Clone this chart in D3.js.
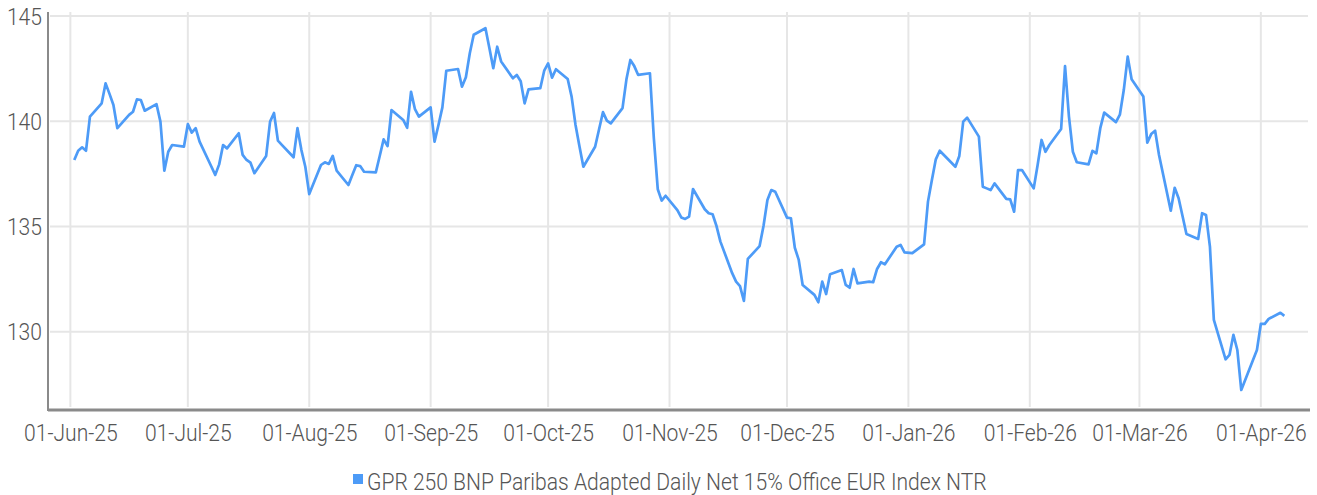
<!DOCTYPE html>
<html>
<head>
<meta charset="utf-8">
<script src="https://cdn.jsdelivr.net/npm/d3@7"></script>
<style>
  body { margin: 0; background: #fff; }
  #chart text { font-family: "Roboto", "Liberation Sans", sans-serif; font-weight: 300; }
</style>
</head>
<body>
<div id="chart"></div>
<script>
// Series name and tick values
const seriesName = "GPR 250 BNP Paribas Adapted Daily Net 15% Office EUR Index NTR";
const yTicks = [130, 135, 140, 145];

// Daily index values
const dates = [
  "2025-06-02","2025-06-03","2025-06-04","2025-06-05","2025-06-06",
  "2025-06-09","2025-06-10","2025-06-11","2025-06-12","2025-06-13",
  "2025-06-16","2025-06-17","2025-06-18","2025-06-19","2025-06-20",
  "2025-06-23","2025-06-24","2025-06-25","2025-06-26","2025-06-27",
  "2025-06-30","2025-07-01","2025-07-02","2025-07-03","2025-07-04",
  "2025-07-07","2025-07-08","2025-07-09","2025-07-10","2025-07-11",
  "2025-07-14","2025-07-15","2025-07-16","2025-07-17","2025-07-18",
  "2025-07-21","2025-07-22","2025-07-23","2025-07-24","2025-07-25",
  "2025-07-28","2025-07-29","2025-07-30","2025-07-31","2025-08-01",
  "2025-08-04","2025-08-05","2025-08-06","2025-08-07","2025-08-08",
  "2025-08-11","2025-08-12","2025-08-13","2025-08-14","2025-08-15",
  "2025-08-18","2025-08-19","2025-08-20","2025-08-21","2025-08-22",
  "2025-08-25","2025-08-26","2025-08-27","2025-08-28","2025-08-29",
  "2025-09-01","2025-09-02","2025-09-03","2025-09-04","2025-09-05",
  "2025-09-08","2025-09-09","2025-09-10","2025-09-11","2025-09-12",
  "2025-09-15","2025-09-16","2025-09-17","2025-09-18","2025-09-19",
  "2025-09-22","2025-09-23","2025-09-24","2025-09-25","2025-09-26",
  "2025-09-29","2025-09-30","2025-10-01","2025-10-02","2025-10-03",
  "2025-10-06","2025-10-07","2025-10-08","2025-10-09","2025-10-10",
  "2025-10-13","2025-10-14","2025-10-15","2025-10-16","2025-10-17",
  "2025-10-20","2025-10-21","2025-10-22","2025-10-23","2025-10-24",
  "2025-10-27","2025-10-28","2025-10-29","2025-10-30","2025-10-31",
  "2025-11-03","2025-11-04","2025-11-05","2025-11-06","2025-11-07",
  "2025-11-10","2025-11-11","2025-11-12","2025-11-13","2025-11-14",
  "2025-11-17","2025-11-18","2025-11-19","2025-11-20","2025-11-21",
  "2025-11-24","2025-11-25","2025-11-26","2025-11-27","2025-11-28",
  "2025-12-01","2025-12-02","2025-12-03","2025-12-04","2025-12-05",
  "2025-12-08","2025-12-09","2025-12-10","2025-12-11","2025-12-12",
  "2025-12-15","2025-12-16","2025-12-17","2025-12-18","2025-12-19",
  "2025-12-22","2025-12-23","2025-12-24","2025-12-25","2025-12-26",
  "2025-12-29","2025-12-30","2025-12-31","2026-01-02",
  "2026-01-05","2026-01-06","2026-01-07","2026-01-08","2026-01-09",
  "2026-01-12","2026-01-13","2026-01-14","2026-01-15","2026-01-16",
  "2026-01-19","2026-01-20","2026-01-21","2026-01-22","2026-01-23",
  "2026-01-26","2026-01-27","2026-01-28","2026-01-29","2026-01-30",
  "2026-02-02","2026-02-03","2026-02-04","2026-02-05","2026-02-06",
  "2026-02-09","2026-02-10","2026-02-11","2026-02-12","2026-02-13",
  "2026-02-16","2026-02-17","2026-02-18","2026-02-19","2026-02-20",
  "2026-02-23","2026-02-24","2026-02-25","2026-02-26","2026-02-27",
  "2026-03-02","2026-03-03","2026-03-04","2026-03-05","2026-03-06",
  "2026-03-09","2026-03-10","2026-03-11","2026-03-12","2026-03-13",
  "2026-03-16","2026-03-17","2026-03-18","2026-03-19","2026-03-20",
  "2026-03-23","2026-03-24","2026-03-25","2026-03-26","2026-03-27",
  "2026-03-30","2026-03-31","2026-04-01","2026-04-02","2026-04-03",
  "2026-04-06","2026-04-07"
];
const values = [
  138.16, 138.60, 138.76, 138.60, 140.22,
  140.85, 141.80, 141.30, 140.77, 139.67,
  140.30, 140.45, 141.04, 141.01, 140.50,
  140.81, 139.98, 137.65, 138.55, 138.87,
  138.79, 139.86, 139.46, 139.67, 139.03,
  137.85, 137.45, 137.95, 138.87, 138.71,
  139.43, 138.40, 138.16, 138.03, 137.53,
  138.35, 139.98, 140.39, 139.08, 138.88,
  138.29, 139.67, 138.63, 137.84, 136.54,
  137.92, 138.05, 137.97, 138.35, 137.65,
  136.97, 137.45, 137.91, 137.87, 137.60,
  137.57, 138.35, 139.14, 138.82, 140.53,
  140.06, 139.69, 141.40, 140.57, 140.22,
  140.66, 139.03, 139.82, 140.66, 142.40,
  142.48, 141.64, 142.09, 143.23, 144.11,
  144.42, 143.48, 142.52, 143.54, 142.84,
  142.04, 142.20, 141.90, 140.85, 141.51,
  141.57, 142.40, 142.75, 142.07, 142.47,
  142.01, 141.17, 139.82, 138.81, 137.84,
  138.79, 139.61, 140.43, 140.03, 139.90,
  140.62, 141.99, 142.91, 142.62, 142.20,
  142.28, 139.19, 136.77, 136.23, 136.46,
  135.78, 135.43, 135.36, 135.47, 136.78,
  135.82, 135.63, 135.58, 135.02, 134.28,
  132.78, 132.38, 132.17, 131.46, 133.46,
  134.07, 135.02, 136.26, 136.73, 136.65,
  135.42, 135.39, 133.99, 133.41, 132.22,
  131.75, 131.40, 132.38, 131.79, 132.73,
  132.93, 132.22, 132.09, 132.98, 132.30,
  132.38, 132.35, 132.98, 133.30, 133.20,
  134.04, 134.12, 133.77, 133.73,
  134.15, 136.18, 137.21, 138.19, 138.60,
  138.03, 137.84, 138.35, 139.98, 140.17,
  139.27, 136.89, 136.81, 136.73, 137.05,
  136.31, 136.29, 135.70, 137.68, 137.68,
  136.81, 137.92, 139.11, 138.55, 138.87,
  139.63, 142.62, 140.22, 138.55, 138.05,
  137.95, 138.59, 138.48, 139.67, 140.41,
  139.96, 140.31, 141.48, 143.07, 141.99,
  141.17, 138.98, 139.39, 139.55, 138.40,
  135.75, 136.84, 136.34, 135.50, 134.64,
  134.41, 135.63, 135.55, 134.04, 130.56,
  128.69, 128.90, 129.85, 129.13, 127.23,
  128.66, 129.13, 130.37, 130.37, 130.61,
  130.90, 130.75
];

const colors = {
    line: "#4d9bf7",
    grid: "#e6e6e6",
    axis: "#8a8a8a",
    text: "#555555"
};

const width = 1317, height = 495;
const plot = { left: 48, right: 1308, top: 12, bottom: 410 };
const fontSize = 24;

const parse = d3.utcParse("%Y-%m-%d");
const data = dates.map((d, i) => ({ date: parse(d), value: values[i] }));

const svg = d3.select("#chart")
    .append("svg")
    .attr("width", width)
    .attr("height", height);

// x runs from late May 2025 to mid April 2026
const xScale = d3.scaleUtc()
    .domain([Date.UTC(2025, 4, 26, 7), Date.UTC(2026, 3, 13, 1)])
    .range([plot.left, plot.right]);

const yScale = d3.scaleLinear()
    .domain([126.28, 145.19])
    .range([plot.bottom, plot.top]);

const monthTicks = d3.utcMonth.range(Date.UTC(2025, 5, 1), Date.UTC(2026, 3, 2));

// Gridlines
svg.append("g")
    .selectAll("line")
    .data(yTicks)
    .enter()
    .append("line")
    .attr("x1", plot.left + 2)
    .attr("x2", plot.right)
    .attr("y1", d => yScale(d))
    .attr("y2", d => yScale(d))
    .attr("stroke", colors.grid)
    .attr("stroke-width", 2);

svg.append("g")
    .selectAll("line")
    .data(monthTicks)
    .enter()
    .append("line")
    .attr("x1", d => xScale(d))
    .attr("x2", d => xScale(d))
    .attr("y1", plot.top)
    .attr("y2", plot.bottom - 3)
    .attr("stroke", colors.grid)
    .attr("stroke-width", 2);

// Legend first, so its width sets the condensing factor for all text
const legend = svg.append("g")
    .attr("transform", "translate(367,481)");
const legendText = legend.append("text")
    .attr("dy", "0.36em")
    .attr("fill", colors.text)
    .style("font-size", fontSize + "px")
    .text(seriesName);
// The original font is a condensed face; squeeze ours to the same width
const squeeze = 620 / legendText.node().getComputedTextLength();
legendText.attr("transform", `scale(${squeeze},1)`);

svg.append("rect")
    .attr("x", 353)
    .attr("y", 474)
    .attr("width", 10)
    .attr("height", 10)
    .attr("fill", colors.line);

// Axes
const xAxis = d3.axisBottom(xScale)
    .tickValues(monthTicks)
    .tickSize(0)
    .tickPadding(14)
    .tickFormat(d3.utcFormat("%d-%b-%y"));

const gx = svg.append("g")
    .attr("transform", `translate(0,${plot.bottom})`)
    .call(xAxis);
gx.select(".domain").remove();
gx.selectAll("text")
    .attr("fill", colors.text)
    .attr("transform", `scale(${squeeze},1)`)
    .style("font-size", fontSize + "px");

const yAxis = d3.axisLeft(yScale)
    .tickValues(yTicks)
    .tickSize(0)
    .tickPadding(0);

const gy = svg.append("g")
    .attr("transform", `translate(${plot.left - 6},0)`)
    .call(yAxis);
gy.select(".domain").remove();
gy.selectAll("text")
    .attr("fill", colors.text)
    .attr("x", 0)
    .attr("dy", "0.34em")
    .attr("transform", `scale(${squeeze},1)`)
    .style("font-size", fontSize + "px");

svg.append("line")
    .attr("x1", plot.left).attr("x2", plot.left)
    .attr("y1", plot.top).attr("y2", plot.bottom + 1)
    .attr("stroke", colors.axis).attr("stroke-width", 2);

svg.append("line")
    .attr("x1", plot.left).attr("x2", plot.right + 2)
    .attr("y1", plot.bottom).attr("y2", plot.bottom)
    .attr("stroke", colors.axis).attr("stroke-width", 3);

// Index line
const line = d3.line()
    .x(d => xScale(d.date))
    .y(d => yScale(d.value));

svg.append("path")
    .datum(data)
    .attr("fill", "none")
    .attr("stroke", colors.line)
    .attr("stroke-width", 2.7)
    .attr("stroke-linejoin", "round")
    .attr("d", line);
</script>
</body>
</html>
